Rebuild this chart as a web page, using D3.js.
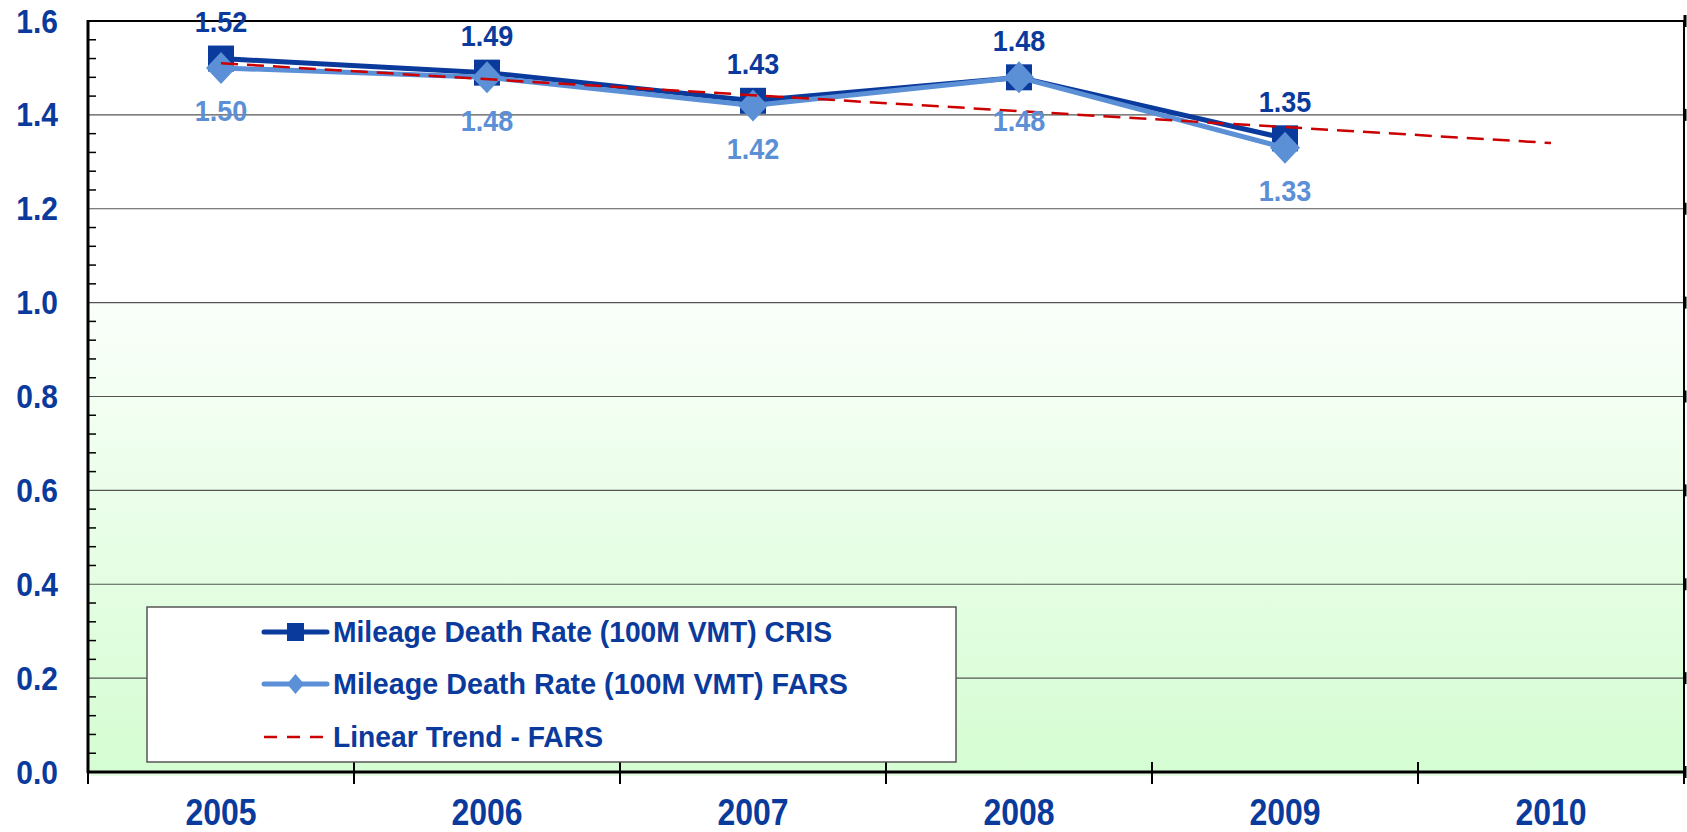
<!DOCTYPE html>
<html><head><meta charset="utf-8">
<script src="https://cdn.jsdelivr.net/npm/d3@7"></script>
<style>html,body{margin:0;padding:0;background:#fff;}svg{display:block;}</style>
</head><body>
<script>
const years = ["2005","2006","2007","2008","2009","2010"];
const crisValues = [1.52, 1.49, 1.43, 1.48, 1.35];
const farsValues = [1.50, 1.48, 1.42, 1.48, 1.33];
const trendYears = ["2005","2010"];
const trendValues = [1.51, 1.34];
const yTickValues = [0, 0.2, 0.4, 0.6, 0.8, 1.0, 1.2, 1.4, 1.6];
const legendLabels = ["Mileage Death Rate (100M VMT) CRIS","Mileage Death Rate (100M VMT) FARS","Linear Trend - FARS"];

const W = 1687, H = 832;
const dark = "#0a3a9c", light = "#5b8fd6", red = "#cc0000";
const FONT = "Liberation Sans, Arial, sans-serif";
const svg = d3.select("body").append("svg").attr("width", W).attr("height", H);

const x = d3.scaleBand().domain(years).range([88, 1684]).padding(0);
const y = d3.scaleLinear().domain([0, 1.6]).range([772, 21]);
const cx = d => x(d) + x.bandwidth() / 2;

const defs = svg.append("defs");
const g = defs.append("linearGradient").attr("id","grn").attr("x1",0).attr("y1",0).attr("x2",0).attr("y2",1);
g.append("stop").attr("offset","0%").attr("stop-color","#fafffa");
g.append("stop").attr("offset","100%").attr("stop-color","#d5fdd2");

// plot backgrounds
svg.append("rect").attr("x",88).attr("y",y(1.6)).attr("width",1684-88).attr("height",y(1.0)-y(1.6)).attr("fill","#fff");
svg.append("rect").attr("x",88).attr("y",y(1.0)).attr("width",1684-88).attr("height",y(0)-y(1.0)).attr("fill","url(#grn)");
svg.append("rect").attr("x",88).attr("y",y(0)).attr("width",1684-88).attr("height",4).attr("fill","#e6fde4");

// gridlines
svg.append("g").selectAll("line").data(yTickValues.filter(v => v > 0 && v < 1.6)).join("line")
  .attr("x1",88).attr("x2",1684).attr("y1",d=>y(d)).attr("y2",d=>y(d))
  .attr("stroke","#555").attr("stroke-width",1.2);

// minor ticks on y axis
const minor = d3.range(0, 1.6001, 0.04).filter(v => Math.abs(v/0.2 - Math.round(v/0.2)) > 1e-6);
svg.append("g").selectAll("line").data(minor).join("line")
  .attr("x1",88).attr("x2",96).attr("y1",d=>y(d)).attr("y2",d=>y(d))
  .attr("stroke","#000").attr("stroke-width",1.5);

// right border ticks
svg.append("g").selectAll("line").data(yTickValues).join("line")
  .attr("x1",1685).attr("x2",1685).attr("y1",d=>y(d)-6).attr("y2",d=>y(d)+6)
  .attr("stroke","#000").attr("stroke-width",3);

// borders
svg.append("line").attr("x1",88).attr("x2",1684).attr("y1",y(1.6)).attr("y2",y(1.6)).attr("stroke","#000").attr("stroke-width",2);
svg.append("line").attr("x1",1684).attr("x2",1684).attr("y1",y(1.6)).attr("y2",y(0)).attr("stroke","#000").attr("stroke-width",2);
svg.append("line").attr("x1",88).attr("x2",88).attr("y1",y(1.6)-1).attr("y2",y(0)+1).attr("stroke","#000").attr("stroke-width",3);
svg.append("line").attr("x1",87).attr("x2",1685).attr("y1",y(0)).attr("y2",y(0)).attr("stroke","#000").attr("stroke-width",3);

// x ticks at band boundaries
const bounds = years.map(d => x(d)).concat([x.range()[1]]);
svg.append("g").selectAll("line").data(bounds).join("line")
  .attr("x1",d=>d).attr("x2",d=>d).attr("y1",y(0)-10).attr("y2",y(0)+12)
  .attr("stroke","#000").attr("stroke-width",2);

function stretched(sel, px, py, k) {
  return sel.attr("transform", (d,i) => `translate(${px(d,i)},${py(d,i)}) scale(1,${k})`);
}

// y labels
stretched(svg.append("g").selectAll("text").data(yTickValues).join("text"),
  () => 58, d => y(d) + 11.5, 1.09)
  .attr("text-anchor","end")
  .attr("font-family",FONT).attr("font-weight","bold")
  .attr("font-size",30).attr("fill",dark).text(d=>d3.format(".1f")(d));

// x labels
stretched(svg.append("g").selectAll("text").data(years).join("text"),
  d => cx(d), () => 825, 1.13)
  .attr("text-anchor","middle")
  .attr("font-family",FONT).attr("font-weight","bold")
  .attr("font-size",32).attr("fill",dark).text(d=>d);

// legend
const lg = svg.append("g");
lg.append("rect").attr("x",147).attr("y",607).attr("width",809).attr("height",155)
  .attr("fill","#fff").attr("stroke","#555").attr("stroke-width",1.5);
const rowsY = [632, 684, 737];
const widths = [499, 515, 270];
legendLabels.forEach((t,i) => {
  const yy = rowsY[i];
  if (i < 2) {
    lg.append("line").attr("x1",264).attr("x2",327).attr("y1",yy).attr("y2",yy)
      .attr("stroke", i===0?dark:light).attr("stroke-width",5).attr("stroke-linecap","round");
    if (i===0) lg.append("rect").attr("x",287).attr("y",yy-9).attr("width",17).attr("height",18).attr("fill",dark);
    else lg.append("path").attr("d",`M295.5,${yy-10}L304,${yy}L295.5,${yy+10}L287,${yy}Z`).attr("fill",light);
  } else {
    lg.append("line").attr("x1",264).attr("x2",327).attr("y1",yy).attr("y2",yy)
      .attr("stroke",red).attr("stroke-width",2.5).attr("stroke-dasharray","13,10");
  }
  lg.append("text").attr("transform",`translate(333,${yy+9.8}) scale(1,1.06)`)
    .attr("font-family","Liberation Sans Narrow, Arial Narrow, Liberation Sans, sans-serif")
    .attr("font-weight","bold").attr("font-size",27).attr("fill",dark).text(t)
    .attr("textLength", widths[i]).attr("lengthAdjust","spacingAndGlyphs");
});

// series
const crisData = crisValues.map((v,i)=>({yr:years[i], v}));
const farsData = farsValues.map((v,i)=>({yr:years[i], v}));
const line = d3.line().x(d=>cx(d.yr)).y(d=>y(d.v));

svg.append("path").datum(crisData).attr("d",line).attr("fill","none").attr("stroke",dark).attr("stroke-width",5).attr("stroke-linejoin","round");
svg.append("g").selectAll("rect").data(crisData).join("rect")
  .attr("x",d=>cx(d.yr)-13).attr("y",d=>y(d.v)-13).attr("width",26).attr("height",26).attr("fill",dark);

svg.append("path").datum(farsData).attr("d",line).attr("fill","none").attr("stroke",light).attr("stroke-width",5).attr("stroke-linejoin","round");
svg.append("g").selectAll("path").data(farsData).join("path")
  .attr("d",d=>{const X=cx(d.yr),Y=y(d.v);return `M${X},${Y-16}L${X+15},${Y}L${X},${Y+16}L${X-15},${Y}Z`;})
  .attr("fill",light);

const trendData = trendValues.map((v,i)=>({yr:trendYears[i], v}));
svg.append("path").datum(trendData).attr("d",line).attr("fill","none").attr("stroke",red).attr("stroke-width",2.5).attr("stroke-dasharray","17,9");

// data labels
stretched(svg.append("g").selectAll("text").data(crisData).join("text"),
  d => cx(d.yr), d => y(d.v) - 37 + 10.5, 1.08)
  .attr("text-anchor","middle")
  .attr("font-family",FONT).attr("font-weight","bold")
  .attr("font-size",27).attr("fill",dark).text(d=>d3.format(".2f")(d.v));
stretched(svg.append("g").selectAll("text").data(farsData).join("text"),
  d => cx(d.yr), d => y(d.v) + 43 + 10.5, 1.08)
  .attr("text-anchor","middle")
  .attr("font-family",FONT).attr("font-weight","bold")
  .attr("font-size",27).attr("fill",light).text(d=>d3.format(".2f")(d.v));
</script>
</body></html>
